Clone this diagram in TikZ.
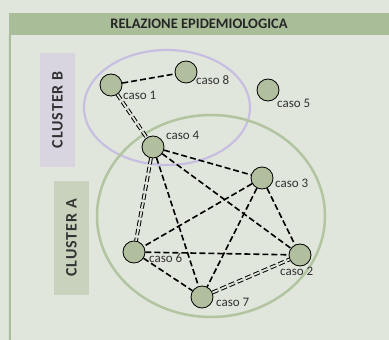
\documentclass[tikz,border=0pt]{standalone}
\usepackage{fontspec}
\setmainfont{Carlito}
\definecolor{bgcol}{RGB}{224,230,220}
\definecolor{headcol}{RGB}{170,189,153}
\definecolor{clbcol}{RGB}{216,212,224}
\definecolor{clacol}{RGB}{200,210,188}
\definecolor{purplecol}{RGB}{200,190,226}
\definecolor{greencol}{RGB}{178,196,160}
\definecolor{nodecol}{RGB}{177,191,159}
\definecolor{txtcol}{RGB}{50,50,50}
\begin{document}
\begin{tikzpicture}[
  x=1pt, y=-1pt,
  caso/.style={circle, draw=black, line width=0.8pt, fill=nodecol, minimum size=22pt, inner sep=0pt},
  lbl/.style={anchor=west, inner sep=0pt, text height=1ex, text depth=0pt, font=\fontsize{13}{15}\selectfont, text=txtcol},
  cluster/.style={rotate=90, minimum width=114pt, minimum height=35pt, inner sep=0pt,
    font=\fontsize{16}{18}\selectfont\bfseries\addfontfeature{LetterSpace=6}, text=black!80},
  rel/.style={dash pattern=on 6pt off 3pt, line width=1.6pt},
  relx/.style={dash pattern=on 6pt off 3pt, line width=1pt, double=bgcol, double distance=1.8pt}
]
\useasboundingbox (0,0) rectangle (389,340);
\fill[bgcol] (0,0) rectangle (389,340);

% --- Header ---
\node[fill=headcol, minimum width=380pt, minimum height=22pt, inner sep=0pt,
  font=\fontsize{14.5}{16}\selectfont\bfseries, text=black!85] (head) at (199,24) {RELAZIONE EPIDEMIOLOGICA};
\draw[headcol, line width=2pt] (head.south west) ++(1,0) -- (10,340);

% --- Cluster labels ---
\node[cluster, fill=clbcol] (clB) at (57.5,110) {CLUSTER B};
\node[cluster, fill=clacol] (clA) at (71.5,238) {CLUSTER A};

% --- Cluster areas ---
\draw[purplecol, line width=2.2pt] (167,107.5) ellipse (83 and 57.5);
\draw[greencol, line width=2.5pt] (211,216) ellipse (114 and 101);

% --- Cases ---
\node[caso] (c1) at (111,85) {};
\node[caso] (c8) at (186,72) {};
\node[caso] (c5) at (268,90) {};
\node[caso] (c4) at (153,147) {};
\node[caso] (c3) at (262,178) {};
\node[caso] (c6) at (134,252) {};
\node[caso] (c2) at (300,255) {};
\node[caso] (c7) at (202,297) {};

% --- Case labels ---
\node[lbl] (l1) at (123,97) {caso 1};
\node[lbl] (l8) at (196,82) {caso 8};
\node[lbl] (l5) at (277,105) {caso 5};
\node[lbl] (l4) at (166,137) {caso 4};
\node[lbl] (l3) at (275,185) {caso 3};
\node[lbl] (l6) at (149,260) {caso 6};
\node[lbl] (l2) at (280,273) {caso 2};
\node[lbl] (l7) at (216,304) {caso 7};

% --- Relations: cluster B ---
\draw[rel] (c1) -- (c8);
\draw[relx] (c1) -- (c4);

% --- Relations: cluster A ---
\draw[rel] (c4) -- (c3);
\draw[relx] (c4) -- (c6);
\draw[rel] (c4) -- (c7);
\draw[rel] (c4) -- (c2);
\draw[rel] (c3) -- (c6);
\draw[rel] (c3) -- (c7);
\draw[rel] (c3) -- (c2);
\draw[rel] (c6) -- (c2);
\draw[rel] (c6) -- (c7);
\draw[relx] (c7) -- (c2);

\end{tikzpicture}
\end{document}
